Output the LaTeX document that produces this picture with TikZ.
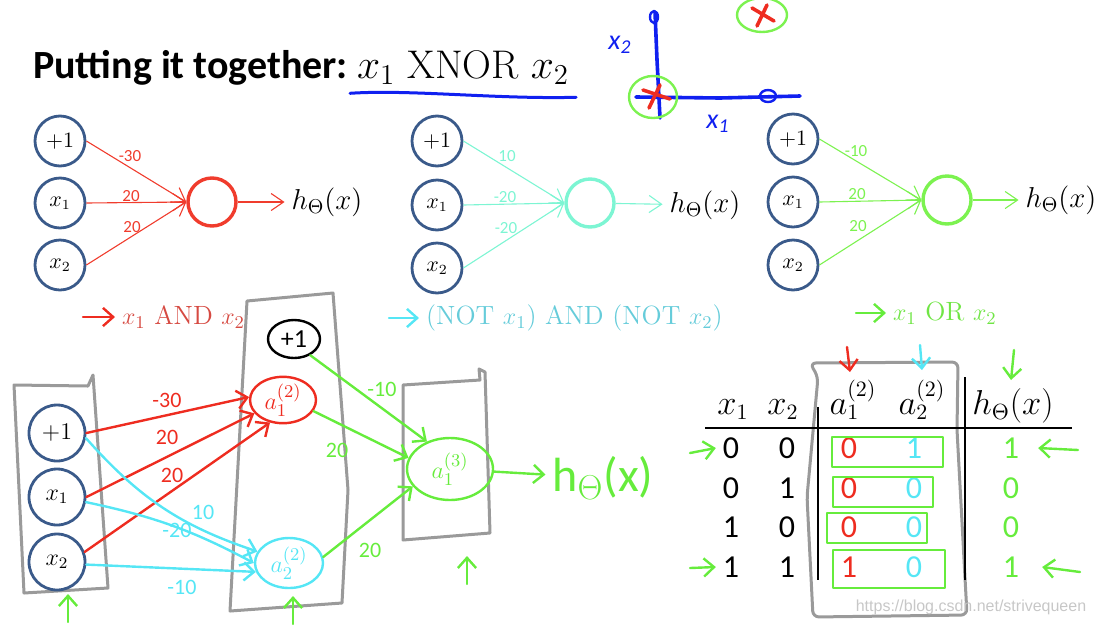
\documentclass[tikz,border=0pt]{standalone}
\usepackage{fontspec}
\usepackage{tikz}
\usetikzlibrary{arrows.meta,positioning,shapes.geometric}
\newfontfamily\calib{Carlito}
\newfontfamily\webfont{Liberation Sans}
\definecolor{unit}{HTML}{3A5A8A}
\definecolor{andred}{HTML}{F03C2D}
\definecolor{andtext}{HTML}{D64A42}
\definecolor{notaqua}{HTML}{7DF5D3}
\definecolor{nottext}{HTML}{66CCDA}
\definecolor{orgreen}{HTML}{7CF250}
\definecolor{ortext}{HTML}{70E545}
\definecolor{penred}{HTML}{EE2C20}
\definecolor{pencyan}{HTML}{55E6F5}
\definecolor{pengreen}{HTML}{66EC3C}
\definecolor{penblue}{HTML}{1020F0}
\definecolor{laygray}{HTML}{9A9A9A}

\begin{document}
\begin{tikzpicture}[x=0.5pt,y=-0.5pt,>={Straight Barb[length=2.2mm,width=3mm]},
  inp/.style={circle,draw=unit,line width=1.4pt,minimum size=25pt,inner sep=0pt,
              font=\fontsize{10.5}{12}\selectfont},
  binp/.style={inp,minimum size=28pt,font=\fontsize{11.5}{13}\selectfont},
  sum/.style={circle,line width=1.7pt,minimum size=24pt,inner sep=0pt},
  hyp/.style={font=\fontsize{14}{16}\selectfont},
  wt/.style={font=\calib\fontsize{8.5}{10}\selectfont},
  syn/.style={->,line width=0.55pt},
  pen/.style={line width=1.2pt,line cap=round,line join=round},
  hand/.style={pen,-{Straight Barb[length=1.8mm,width=3.2mm]}},
  lay/.style={pen,draw=laygray,line width=1.5pt},
  hn/.style={ellipse,pen,inner sep=0pt,font=\fontsize{13}{14}\selectfont},
  hw/.style={font=\calib\fontsize{11}{12}\selectfont},
  lbl/.style={anchor=west,font=\fontsize{13.2}{15}\selectfont},
  cell/.style={font=\calib\fontsize{16}{17}\selectfont},
  hd/.style={font=\calib\fontsize{16}{16}\selectfont},
  thead/.style={anchor=base,font=\fontsize{16}{18}\selectfont}]
  \useasboundingbox (0,0) rectangle (1095,627);

  % title
  \node[anchor=base west,font=\calib\bfseries\fontsize{20}{24}\selectfont] (title) at (26,78) {Putting it together:};
  \node[anchor=base west,font=\fontsize{20}{22}\selectfont] (xnor) at (350,78) {$x_1\ \mathrm{XNOR}\ x_2$};
  \draw[pen,penblue,line width=1.5pt] ([yshift=-1pt]xnor.south west) .. controls +(60,-4) and +(-80,2) .. ([yshift=-3pt]xnor.south east);

  % x1-x2 sketch
  \draw[pen,penblue,line width=1.8pt] (655,12) -- (657,60) -- (660,118);
  \draw[pen,penblue,line width=1.8pt] (636,97) -- (720,98) -- (800,96);
  \draw[pen,penblue] (654,17) ellipse (4 and 6);
  \draw[pen,penblue] (768,96) ellipse (8 and 6);
  \node[font=\calib\itshape\fontsize{14}{14}\selectfont,text=penblue] (lxb) at (620,45) {x\textsubscript{2}};
  \node[font=\calib\itshape\fontsize{14}{14}\selectfont,text=penblue] (lxa) at (718,124) {x\textsubscript{1}};
  \draw[pen,orgreen] (653,97) ellipse (24 and 21);
  \draw[pen,penred,line width=1.8pt] (643,90) -- (670,99) (649,108) -- (660,85);
  \draw[pen,orgreen] (762,15) ellipse (25 and 17);
  \draw[pen,penred,line width=1.8pt] (752,8) -- (774,21) (757,26) -- (767,5);

  % AND unit
  \node[inp] (ap) at (60,141) {$+1$};
  \node[inp] (ax1) at (60,203) {$x_1$};
  \node[inp] (ax2) at (60,265) {$x_2$};
  \node[sum,draw=andred] (as) at (212,202) {};
  \node[hyp] (ah) at (327,202) {$h_\Theta(x)$};
  \foreach \i in {ap,ax1,ax2} \draw[syn,andred] (\i.east) -- (as.west);
  \draw[syn,andred] (as) -- (ah);
  \node[wt,text=andred] at (130,156) {-30};
  \node[wt,text=andred] at (131,196) {20};
  \node[wt,text=andred] at (132,227) {20};
  \node[lbl,text=andtext] (andlbl) at (115,317) {$x_1$ AND $x_2$};
  \draw[hand,penred] ([xshift=-16pt]andlbl.west) -- (andlbl.west);

  % NOT-AND-NOT unit
  \node[inp] (np) at (437,141) {$+1$};
  \node[inp] (nx1) at (437,205) {$x_1$};
  \node[inp] (nx2) at (437,268) {$x_2$};
  \node[sum,draw=notaqua] (ns) at (590,203) {};
  \node[hyp] (nh) at (705,205) {$h_\Theta(x)$};
  \foreach \i in {np,nx1,nx2} \draw[syn,notaqua] (\i.east) -- (ns.west);
  \draw[syn,notaqua] (ns) -- (nh);
  \node[wt,text=notaqua] at (507,156) {10};
  \node[wt,text=notaqua] at (505,197) {-20};
  \node[wt,text=notaqua] at (506,228) {-20};
  \node[lbl,text=nottext] (notlbl) at (419,318) {(NOT $x_1$) AND (NOT $x_2$)};
  \draw[hand,pencyan] ([xshift=-15pt]notlbl.west) -- (notlbl.west);

  % OR unit
  \node[inp] (op) at (793,139) {$+1$};
  \node[inp] (ox1) at (793,202) {$x_1$};
  \node[inp] (ox2) at (793,265) {$x_2$};
  \node[sum,draw=orgreen] (os) at (947,200) {};
  \node[hyp] (oh) at (1061,200) {$h_\Theta(x)$};
  \foreach \i in {op,ox1,ox2} \draw[syn,orgreen] (\i.east) -- (os.west);
  \draw[syn,orgreen] (os) -- (oh);
  \node[wt,text=orgreen] at (856,151) {-10};
  \node[wt,text=orgreen] at (857,194) {20};
  \node[wt,text=orgreen] at (858,226) {20};
  \node[lbl,text=ortext] (orlbl) at (886,313) {$x_1$ OR $x_2$};
  \draw[hand,pengreen] ([xshift=-15pt]orlbl.west) -- (orlbl.west);

  % layer boxes
  \draw[lay] (14,385) -- (88,386) -- (93,375) -- (108,588) -- (24,593) -- cycle;
  \draw[lay] (247,301) -- (333,293) -- (348,490) -- (342,603) -- (230,611) -- cycle;
  \draw[lay] (403,385) -- (480,380) -- (479,369) -- (485,372) -- (490,533) -- (403,540) -- cycle;

  % network
  \node[binp] (bp) at (57,433) {$+1$};
  \node[binp] (bx1) at (57,497) {$x_1$};
  \node[binp] (bx2) at (57,562) {$x_2$};
  \node[hn,draw=black,minimum width=26pt,minimum height=19pt,font=\calib\fontsize{13}{14}\selectfont] (hp) at (294,339) {+1};
  \node[hn,draw=penred,text=penred,minimum width=33pt,minimum height=23pt] (ha) at (283,400) {$a^{(2)}_1$};
  \node[hn,draw=pencyan,text=pencyan,minimum width=34pt,minimum height=25pt] (hb) at (289,563) {$a^{(2)}_2$};
  \node[hn,draw=pengreen,text=pengreen,minimum width=43pt,minimum height=31pt] (oa) at (450,469) {$a^{(3)}_1$};
  \node[text=pengreen,font=\calib\fontsize{24}{26}\selectfont] (ob) at (603,478) {h\textsubscript{$\Theta$}(x)};

  \draw[hand,penred] (bp.east) -- (ha.175);
  \draw[hand,penred] (bx1.east) -- (ha.205);
  \draw[hand,penred] (bx2.20) -- (ha.240);
  \draw[hand,pencyan] (bp.-10) to[bend right=15] (hb.160);
  \draw[hand,pencyan] (bx1.-10) to[bend left=8] (hb.180);
  \draw[hand,pencyan] (bx2.-5) -- (hb.195);
  \draw[hand,pengreen] (hp.-45) -- (oa.130);
  \draw[hand,pengreen] (ha.-20) -- (oa.165);
  \draw[hand,pengreen] (hb.10) -- (oa.205);
  \draw[hand,pengreen] (oa) -- (ob);

  \node[hw,text=penred] at (167,400) {-30};
  \node[hw,text=penred] at (167,437) {20};
  \node[hw,text=penred] at (172,475) {20};
  \node[hw,text=pencyan] at (203,512) {10};
  \node[hw,text=pencyan] at (177,530) {-20};
  \node[hw,text=pencyan] at (182,587) {-10};
  \node[hw,text=pengreen] at (382,389) {-10};
  \node[hw,text=pengreen] at (337,450) {20};
  \node[hw,text=pengreen] at (370,550) {20};

  \coordinate (ua) at (68,622);
  \coordinate (ub) at (293,624);
  \coordinate (uc) at (467,584);
  \foreach \u in {ua,ub,uc} \draw[hand,pengreen] (\u) -- ++(0,-28);

  % truth table
  \draw[lay,rounded corners=3pt] (810,363) -- (958,362) -- (957,430) -- (967,615) -- (813,617) -- (807,497) -- (818,377) -- cycle;
  \node[thead] (tx1) at (733,414) {$x_1$};
  \node[thead] (tx2) at (783,414) {$x_2$};
  \node[thead] (ta1) at (853,414) {$a^{(2)}_1$};
  \node[thead] (ta2) at (922,414) {$a^{(2)}_2$};
  \node[thead] (th) at (1013,414) {$h_\Theta(x)$};
  \draw[line width=0.8pt] (705,428) -- (1072,428);
  \draw[line width=0.8pt] (818,407) -- (818,580);
  \draw[line width=0.8pt] (965,377) -- (965,580);
  \foreach \r/\y/\p/\q/\u/\v/\h in {1/448/0/0/0/1/1,2/488/0/1/0/0/0,3/527/1/0/0/0/0,4/567/1/1/1/0/1}{
    \node[cell] (ra\r) at (731,\y) {\p};
    \node[cell] (rb\r) at (787,\y) {\q};
    \node[hd,text=penred] (rc\r) at (849,\y) {\u};
    \node[hd,text=pencyan] (rd\r) at (914,\y) {\v};
    \node[hd,text=pengreen] (re\r) at (1011,\y) {\h};
  }
  \draw[pen,pengreen] (832,437) rectangle (943,467);
  \draw[pen,pengreen] (833,477) rectangle (933,507);
  \draw[pen,pengreen] (827,513) rectangle (927,543);
  \draw[pen,pengreen] (833,550) rectangle (945,588);

  \coordinate (da) at (847,347);
  \coordinate (db) at (920,345);
  \coordinate (dc) at (1014,350);
  \draw[hand,penred] (da) -- ++(3,25);
  \draw[hand,pencyan] (db) -- ++(2,25);
  \draw[hand,pengreen] (dc) -- ++(-3,30);
  \draw[hand,pengreen] (690,453) -- (ra1.west);
  \draw[hand,pengreen] (690,568) -- (ra4.west);
  \draw[hand,pengreen] (1078,450) -- ([xshift=6pt]re1.east);
  \draw[hand,pengreen] (1080,572) -- ([xshift=8pt]re4.east);

  \node[font=\webfont\fontsize{8}{9}\selectfont,text=black!22] (mark) at (971,607) {https://blog.csdn.net/strivequeen};
\end{tikzpicture}
\end{document}
